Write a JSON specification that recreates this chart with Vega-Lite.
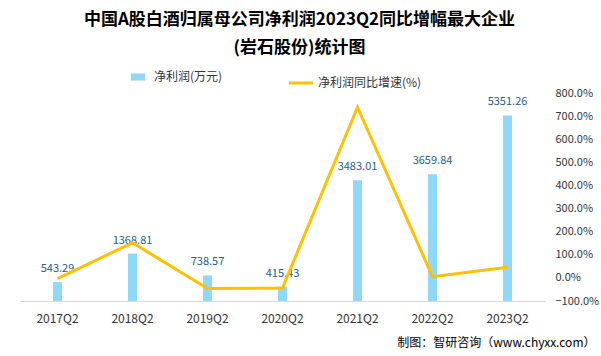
{
  "$schema": "https://vega.github.io/schema/vega-lite/v6.json",
  "width": 525,
  "height": 208,
  "autosize": {"type": "none"},
  "padding": {"left": 20, "top": 93, "right": 56, "bottom": 55},
  "background": "white",
  "config": {"view": {"stroke": null}, "font": "Noto Sans CJK SC"},
  "title": {
    "text": ["中国A股白酒归属母公司净利润2023Q2同比增幅最大企业", "(岩石股份)统计图"],
    "fontSize": 17,
    "fontWeight": "bold",
    "color": "#000000",
    "lineHeight": 28,
    "anchor": "middle",
    "dx": 17,
    "offset": 12
  },
  "data": {
    "values": [
      {"q": "2017Q2", "profit": 543.29, "growth": -3},
      {"q": "2018Q2", "profit": 1368.81, "growth": 151.95},
      {"q": "2019Q2", "profit": 738.57, "growth": -46.04},
      {"q": "2020Q2", "profit": 415.43, "growth": -43.75},
      {"q": "2021Q2", "profit": 3483.01, "growth": 738.41},
      {"q": "2022Q2", "profit": 3659.84, "growth": 5.08},
      {"q": "2023Q2", "profit": 5351.26, "growth": 46.21}
    ]
  },
  "encoding": {
    "x": {
      "field": "q",
      "type": "ordinal",
      "sort": null,
      "axis": {
        "title": "制图：智研咨询（www.chyxx.com）",
        "titleFontSize": 12,
        "titleFontWeight": "normal",
        "titleColor": "#000000",
        "titleAnchor": "end",
        "titleAlign": "right",
        "titleBaseline": "middle",
        "titleX": 575,
        "titleY": 41,
        "labelAngle": 0,
        "labelFontSize": 12,
        "labelColor": "#333333",
        "labelPadding": 12,
        "ticks": false,
        "domainColor": "#d9d9d9",
        "grid": false
      }
    }
  },
  "layer": [
    {
      "mark": {"type": "bar", "size": 9},
      "encoding": {
        "y": {"field": "profit", "type": "quantitative", "scale": {"domain": [0, 6000]}, "axis": null},
        "fill": {
          "datum": "净利润(万元)",
          "type": "nominal",
          "scale": {"range": ["#8fd8f8"]},
          "legend": {
            "orient": "none",
            "legendX": 110,
            "legendY": -24,
            "title": null,
            "symbolType": "M-1,-0.5H1V0.5H-1Z",
            "symbolSize": 200,
            "labelOffset": 8,
            "labelFontSize": 12,
            "labelColor": "#333333"
          }
        }
      }
    },
    {
      "mark": {"type": "text", "dy": -8, "baseline": "bottom", "fontSize": 11, "color": "#1f5c8a"},
      "encoding": {
        "y": {"field": "profit", "type": "quantitative", "scale": {"domain": [0, 6000]}, "axis": null},
        "text": {"field": "profit", "type": "quantitative", "format": ".2f"}
      }
    },
    {
      "mark": {"type": "line", "strokeWidth": 3},
      "encoding": {
        "y": {
          "field": "growth",
          "type": "quantitative",
          "scale": {"domain": [-100, 800]},
          "axis": {
            "orient": "right",
            "values": [-100, 0, 100, 200, 300, 400, 500, 600, 700, 800],
            "labelExpr": "format(datum.value, '.1f') + '%'",
            "title": null,
            "domain": false,
            "ticks": false,
            "grid": false,
            "labelFontSize": 11,
            "labelColor": "#333333",
            "labelPadding": 10
          }
        },
        "stroke": {
          "datum": "净利润同比增速(%)",
          "type": "nominal",
          "scale": {"range": ["#FFC000"]},
          "legend": {
            "orient": "none",
            "legendX": 267,
            "legendY": -24,
            "title": null,
            "symbolType": "stroke",
            "symbolStrokeWidth": 3,
            "symbolSize": 600,
            "labelOffset": 3,
            "labelFontSize": 12,
            "labelColor": "#333333"
          }
        }
      }
    }
  ],
  "resolve": {"scale": {"y": "independent"}}
}
